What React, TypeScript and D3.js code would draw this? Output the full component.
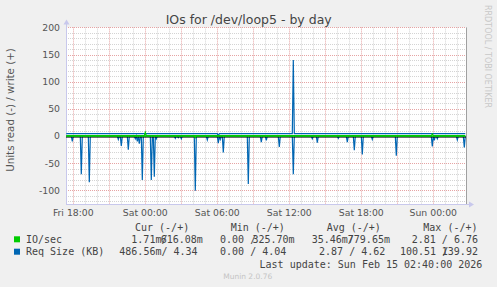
import React from 'react';
import * as d3 from 'd3';

const W = 497;
const H = 287;

// time in minutes relative to Fri 18:00
const xTickMinutes = [0, 360, 720, 1080, 1440, 1800];
const xTickLabels = ['Fri 18:00', 'Sat 00:00', 'Sat 06:00', 'Sat 12:00', 'Sat 18:00', 'Sun 00:00'];
const yTickValues = [-100, -50, 0, 50, 100, 150, 200];
const sampleStart = -35; // Fri 17:25
const sampleStep = 5;
const sampleCount = 400;

// Req Size (KB) read (drawn negative): [minute, value]
const readReqSpikes: [number, number][] = [
  [-5, -10], [40, -70], [80, -85], [225, -6], [240, -18], [275, -25],
  [310, -5], [320, -10], [330, -14], [345, -81], [390, -81], [405, -75],
  [415, -5], [510, -4], [525, -3], [540, -5], [610, -100.51], [670, -7],
  [725, -13], [735, -6], [750, -30], [875, -88], [940, -11], [965, -8],
  [1030, -20], [1100, -70], [1195, -5], [1220, -12], [1325, -4], [1370, -11],
  [1405, -26], [1445, -34], [1495, -6], [1615, -36], [1795, -19], [1805, -8],
  [1820, -5], [1920, -7], [1955, -21],
];
// Req Size (KB) write
const writeReqBase = 4.34;
const writeReqSpikes: [number, number][] = [[1100, 139.92], [725, 0.5]];
// IO/sec read / write
const readIoBase = -0.03;
const readIoSpikes: [number, number][] = [[610, -2.81]];
const writeIoBase = 0.7;
const writeIoSpikes: [number, number][] = [[360, 6.76], [1795, 4]];

const legendNames = ['IO/sec', 'Req Size (KB)'];
const legendColors = ['#00cc00', '#0066b3'];
const legendHeaders = ['Cur (-/+)', 'Min (-/+)', 'Avg (-/+)', 'Max (-/+)'];

function buildSeries(base: number, spikes: [number, number][]) {
  const m = new Map(spikes);
  return d3.range(sampleCount).map((i) => {
    const t = sampleStart + i * sampleStep;
    return { t, v: m.has(t) ? (m.get(t) as number) : base };
  });
}

const CW = 6.02; // monospace char width

export default function App() {
  const x = d3.scaleLinear().domain([-36.5, 1963.5]).range([66, 466]);
  const y = d3.scaleLinear().domain([-125, 200]).range([204, 27.4]);
  const line = d3
    .line<{ t: number; v: number }>()
    .x((d) => x(d.t))
    .y((d) => y(d.v));

  const readReq = buildSeries(0, readReqSpikes);
  const writeReq = buildSeries(writeReqBase, writeReqSpikes);
  const readIo = buildSeries(readIoBase, readIoSpikes);
  const writeIo = buildSeries(writeIoBase, writeIoSpikes);

  const [x0, x1] = x.range();
  const [yb, yt] = y.range();

  const minorY = d3.range(-120, 201, 10).filter((v) => v % 50 !== 0);
  const majorY = d3.range(-100, 201, 50);
  const minorX = d3.range(0, 1961, 60).filter((m) => m % 180 !== 0);
  const majorX = d3.range(0, 1961, 180);

  const mono = "'DejaVu Sans Mono', monospace";
  const sans = "'DejaVu Sans', sans-serif";
  const legCol = '#444';

  return (
    <svg width={W} height={H} style={{ position: 'absolute', left: 0, top: 0 }}>
      <rect x={0} y={0} width={W} height={H} fill="#f0f0f0" />
      <rect x={x0} y={yt} width={x1 - x0} height={yb - yt} fill="#ffffff" />
      {/* minor grid */}
      {minorY.map((v) => (
        <line key={'my' + v} x1={x0} x2={x1} y1={Math.round(y(v)) + 0.5} y2={Math.round(y(v)) + 0.5}
          stroke="#d4d4d4" strokeDasharray="1,1" />
      ))}
      {minorX.map((m) => (
        <line key={'mx' + m} y1={yt} y2={yb} x1={Math.round(x(m)) + 0.5} x2={Math.round(x(m)) + 0.5}
          stroke="#d4d4d4" strokeDasharray="1,1" />
      ))}
      {/* major grid */}
      {majorY.map((v) => (
        <line key={'My' + v} x1={x0} x2={x1} y1={Math.round(y(v)) + 0.5} y2={Math.round(y(v)) + 0.5}
          stroke="#e6a4a4" strokeDasharray="1,1" />
      ))}
      {majorX.map((m) => (
        <line key={'Mx' + m} y1={yt} y2={yb} x1={Math.round(x(m)) + 0.5} x2={Math.round(x(m)) + 0.5}
          stroke="#e6a4a4" strokeDasharray="1,1" />
      ))}
      {/* axes */}
      <line x1={x0 + 0.5} x2={x0 + 0.5} y1={yb} y2={yt - 4} stroke="#c8c8ec" />
      <path d={`M${x0 - 2.5},${yt - 3} L${x0 + 3.5},${yt - 3} L${x0 + 0.5},${yt - 8} Z`} fill="#c8c8ec" />
      <line x1={x0} x2={x1 + 4} y1={yb + 0.5} y2={yb + 0.5} stroke="#c8c8ec" />
      <path d={`M${x1 + 3},${yb - 2.5} L${x1 + 3},${yb + 3.5} L${x1 + 8},${yb + 0.5} Z`} fill="#c8c8ec" />
      <line x1={x1 + 0.5} x2={x1 + 0.5} y1={yt} y2={yb} stroke="#a0a0a0" />

      {/* series */}
      <path d={line(readReq) || ''} fill="none" stroke="#0066b3" strokeWidth={1.2} />
      <path d={line(writeReq) || ''} fill="none" stroke="#0066b3" strokeWidth={1.2} />
      <line x1={x0} x2={x1} y1={y(0) + 1} y2={y(0) + 1} stroke="#000" strokeWidth={1} />
      <path d={line(readIo) || ''} fill="none" stroke="#00cc00" strokeWidth={1.2} />
      <path d={line(writeIo) || ''} fill="none" stroke="#00cc00" strokeWidth={1.2} />

      {/* y tick labels */}
      {yTickValues.map((v) => (
        <text key={'yt' + v} x={60} y={y(v) + 3.3} textAnchor="end" fontFamily={sans} fontSize={9.3} fill="#555">
          {v}
        </text>
      ))}
      {/* x tick labels */}
      {xTickMinutes.map((m, i) => (
        <text key={'xt' + m} x={x(m)} y={216} textAnchor="middle" fontFamily={sans} fontSize={9.3} fill="#555">
          {xTickLabels[i]}
        </text>
      ))}

      {/* title */}
      <text x={248.7} y={24} textAnchor="middle" fontFamily={sans} fontSize={12.5} fill="#444">
        IOs for /dev/loop5 - by day
      </text>
      {/* y axis label */}
      <text transform="translate(14,110) rotate(-90)" textAnchor="middle" fontFamily={sans} fontSize={10.3} fill="#555">
        Units read (-) / write (+)
      </text>
      {/* watermark */}
      <text transform="translate(485,5) rotate(90)" textAnchor="start" fontFamily={sans} fontSize={8} fill="#c8c8c8">
        RRDTOOL / TOBI OETIKER
      </text>

      {/* legend */}
      <g fontFamily={mono} fontSize={10} fill={legCol}>
        <text x={135} y={231.3}>{legendHeaders[0]}</text>
        <text x={230.7} y={231.3}>{legendHeaders[1]}</text>
        <text x={326.7} y={231.3}>{legendHeaders[2]}</text>
        <text x={423.3} y={231.3}>{legendHeaders[3]}</text>

        <rect x={14} y={236.3} width={6} height={6} fill={legendColors[0]} />
        <text x={26} y={243}>{legendNames[0]}</text>
        <text x={119.3 + 2 * CW} y={243}>{'1.71m/'}</text>
        <text x={160.7} y={243}>{'616.08m'}</text>
        <text x={208 + 2 * CW} y={243}>{'0.00 /'}</text>
        <text x={252.5} y={243}>{'325.70m'}</text>
        <text x={305.7 + CW} y={243}>{'35.46m/'}</text>
        <text x={347.8} y={243}>{'779.65m'}</text>
        <text x={399.7 + 2 * CW} y={243}>{'2.81 / 6.76'}</text>

        <rect x={14} y={248.7} width={6} height={6} fill={legendColors[1]} />
        <text x={26} y={255.4}>{legendNames[1]}</text>
        <text x={119.3} y={255.4}>{'486.56m/ 4.34'}</text>
        <text x={208 + 2 * CW} y={255.4}>{'0.00 / 4.04'}</text>
        <text x={307 + 2 * CW} y={255.4}>{'2.87 / 4.62'}</text>
        <text x={400} y={255.4}>{'100.51 /'}</text>
        <text x={441.8} y={255.4}>{'139.92'}</text>

        <text x={482.3} y={267.6} textAnchor="end">Last update: Sun Feb 15 02:40:00 2026</text>
      </g>
      <text x={247.7} y={279} textAnchor="middle" fontFamily={sans} fontSize={7.5} fill="#c4c4c4">
        Munin 2.0.76
      </text>
    </svg>
  );
}
